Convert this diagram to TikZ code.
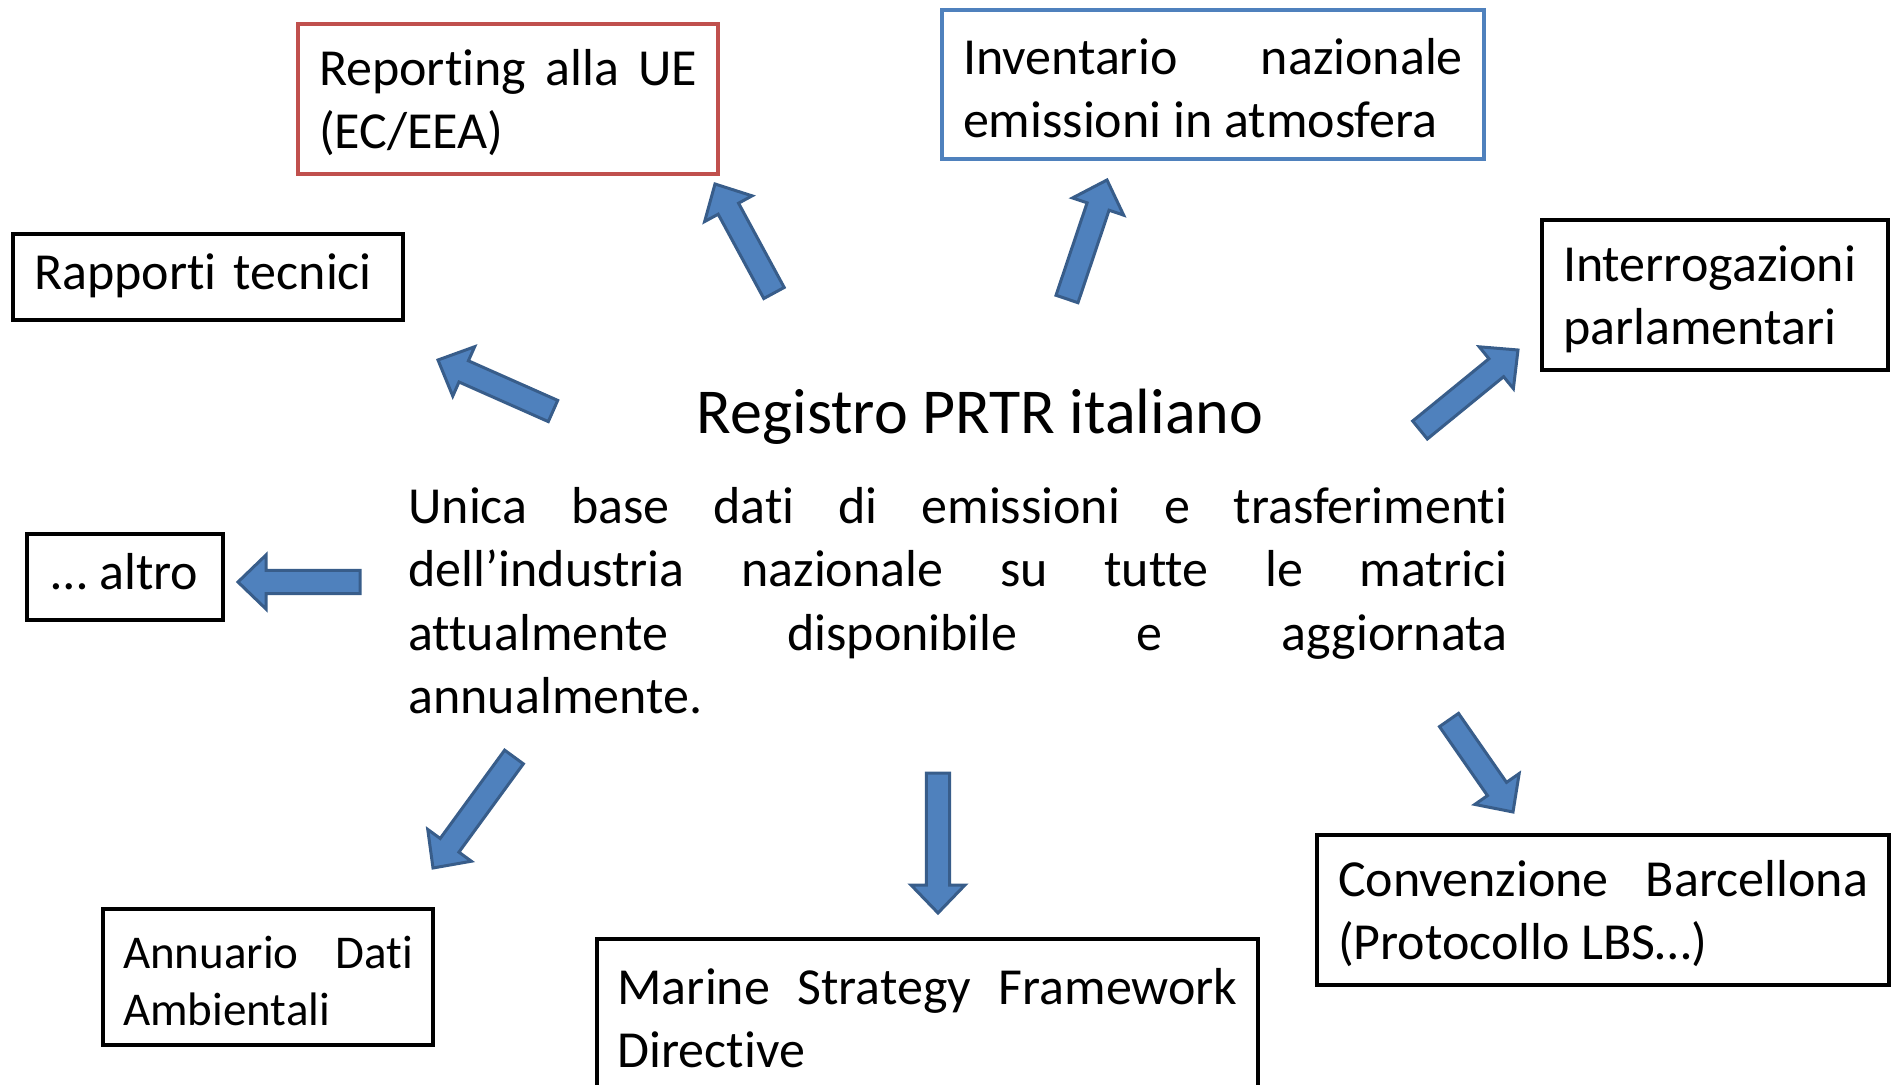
\documentclass[tikz,border=0pt]{standalone}
\usepackage{fontspec}
\setmainfont{Carlito}[Ligatures=NoCommon]
\usepackage{tikz}
\usetikzlibrary{calc}
\definecolor{redline}{HTML}{C0504D}
\definecolor{blueline}{HTML}{4F81BD}
\definecolor{arrowfill}{HTML}{4F81BD}
\definecolor{arrowline}{HTML}{385D8A}
\tolerance=10000
\hyphenpenalty=10000
% block arrow from tail #1 to tip #2
\newcommand{\fatarrow}[2]{%
	\draw[fatarrow] let \p1=(#1), \p2=(#2),
		\n1={atan2(\y2-\y1,\x2-\x1)}, \n2={veclen(\x2-\x1,\y2-\y1)-14} in
		($(\p1)+(\n1+90:5.8pt)$) -- ($(\p1)+(\n1:\n2)+(\n1+90:5.8pt)$)
		-- ($(\p1)+(\n1:\n2)+(\n1+90:13.5pt)$) -- (\p2)
		-- ($(\p1)+(\n1:\n2)+(\n1-90:13.5pt)$) -- ($(\p1)+(\n1:\n2)+(\n1-90:5.8pt)$)
		-- ($(\p1)+(\n1-90:5.8pt)$) -- cycle;}

\begin{document}
\begin{tikzpicture}[x=0.5pt,y=-0.5pt,
		every node/.style={inner sep=0pt},
		outbox/.style={draw, line width=2pt, align=justify, font=\fontsize{26pt}{31.5pt}\selectfont},
		redbox/.style={outbox, draw=redline},
		bluebox/.style={outbox, draw=blueline},
		fatarrow/.style={fill=arrowfill, draw=arrowline, line width=1.5pt}]
	\useasboundingbox (0,0) rectangle (1892,1085);
	\clip (0,0) rectangle (1892,1085);
	%
	\node[font=\fontsize{32pt}{38pt}\selectfont, anchor=base] (title) at (980,434) {Registro PRTR italiano};
	\node[align=justify, text width=549.5pt, anchor=north west, font=\fontsize{26pt}{31.7pt}\selectfont] (desc) at (408,487)
		{Unica base dati di emissioni e trasferimenti\linebreak dell’industria nazionale su tutte le matrici\linebreak attualmente disponibile e aggiornata\linebreak annualmente.};
	%
	\node[redbox, minimum width=210pt, minimum height=75pt, text width=189pt] (rep) at (508,99) {\strut Reporting alla UE\linebreak (EC/EEA)};
	\node[bluebox, minimum width=271pt, minimum height=74.5pt, text width=250pt] (inv) at (1213,84.5) {\strut Inventario nazionale\linebreak emissioni in atmosfera};
	\node[outbox, align=left, minimum width=195pt, minimum height=43pt, text width=174pt] (rap) at (208,277) {\strut Rapporti tecnici};
	\node[outbox, minimum width=173pt, minimum height=75pt, text width=152pt] (int) at (1715,295) {\strut Interrogazioni parlamentari};
	\node[outbox, align=center, minimum width=98pt, minimum height=43pt] (alt) at (125,577) {\strut … altro};
	\node[outbox, font=\fontsize{23.5pt}{28.5pt}\selectfont, minimum width=165pt, minimum height=68pt, text width=145pt] (ann) at (268,977) {\strut Annuario Dati\linebreak Ambientali};
	\node[outbox, minimum width=330.5pt, minimum height=75pt, text width=310pt] (msf) at (927.5,1014) {\strut Marine Strategy Framework\linebreak Directive};
	\node[outbox, minimum width=286pt, minimum height=75pt, text width=265pt] (con) at (1603,910) {\strut Convenzione Barcellona\linebreak (Protocollo LBS…)};
	%
	\coordinate (rep0) at (774,293); \coordinate (rep1) at (715,184);
	\coordinate (inv0) at (1067,299); \coordinate (inv1) at (1107,180);
	\coordinate (rap0) at (553,411); \coordinate (rap1) at (438,360);
	\coordinate (alt0) at (360,582); \coordinate (alt1) at (238,582);
	\coordinate (ann0) at (514,757); \coordinate (ann1) at (433,868);
	\coordinate (msf0) at (938,773); \coordinate (msf1) at (938,913);
	\coordinate (con0) at (1449,720); \coordinate (con1) at (1513,812);
	\coordinate (int0) at (1420,430); \coordinate (int1) at (1518,350);
	%
	\fatarrow{rep0}{rep1}
	\fatarrow{inv0}{inv1}
	\fatarrow{rap0}{rap1}
	\fatarrow{alt0}{alt1}
	\fatarrow{ann0}{ann1}
	\fatarrow{msf0}{msf1}
	\fatarrow{con0}{con1}
	\fatarrow{int0}{int1}
\end{tikzpicture}
\end{document}
